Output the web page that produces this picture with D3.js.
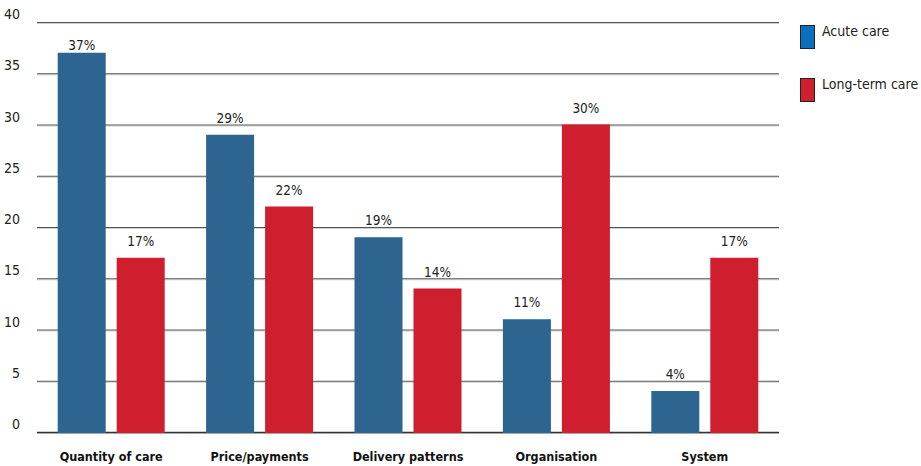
<!DOCTYPE html>
<html><head><meta charset="utf-8">
<script src="https://cdn.jsdelivr.net/npm/d3@7"></script>
<style>body{margin:0;background:#fff}svg{display:block}</style>
</head><body>
<svg id="c" width="921" height="466"></svg>
<script>
const categories = ["Quantity of care","Price/payments","Delivery patterns","Organisation","System"];
const seriesNames = ["Acute care","Long-term care"];
const acute = [37,29,19,11,4];
const longTerm = [17,22,14,30,17];
const yTicks = [0,5,10,15,20,25,30,35,40];
const barColors = ["#2d6490","#cf1f2e"];
const legendColors = ["#0a6fbf","#d0202f"];

const svg = d3.select("#c");
const font = "'Liberation Sans Narrow','DejaVu Sans Condensed',Arial,sans-serif";
const x0 = d3.scaleBand().domain(categories).range([37,779]).paddingInner(0.279).paddingOuter(0.1395);
const x1 = d3.scaleBand().domain(seriesNames).range([0,x0.bandwidth()]).paddingInner(0.1864);
const y = d3.scaleLinear().domain([0,40]).range([432,22]);

// grid
const g = svg.append("g");
yTicks.forEach(t=>{
  g.append("line").attr("x1",37).attr("x2",779).attr("y1",y(t)+1.5).attr("y2",y(t)+1.5)
   .attr("stroke","#d0d0d0").attr("stroke-width",1);
  g.append("line").attr("x1",37).attr("x2",779).attr("y1",y(t)+0.5).attr("y2",y(t)+0.5)
   .attr("stroke",t===0?"#333":"#555").attr("stroke-width",t===0?1.5:1);
});
const yAxis = svg.append("g").attr("transform","translate(20,0)")
  .call(d3.axisLeft(y).tickValues(yTicks).tickSize(0).tickPadding(0));
yAxis.select(".domain").remove();
yAxis.selectAll("text").attr("font-family",font).attr("font-size",14).attr("fill","#222").attr("dy","-0.25em");

const data = categories.map((c,i)=>({cat:c, vals:[acute[i],longTerm[i]]}));
const grp = svg.append("g").selectAll("g").data(data).join("g")
  .attr("transform",d=>`translate(${x0(d.cat)},0)`);
grp.selectAll("rect").data(d=>d.vals.map((v,j)=>({s:seriesNames[j],v,j}))).join("rect")
  .attr("x",d=>x1(d.s)).attr("width",x1.bandwidth())
  .attr("y",d=>y(d.v)).attr("height",d=>y(0)-y(d.v)+1)
  .attr("fill",d=>barColors[d.j]);
grp.selectAll("text").data(d=>d.vals.map((v,j)=>({s:seriesNames[j],v,j}))).join("text")
  .attr("x",d=>x1(d.s)+x1.bandwidth()/2).attr("y",d=>Math.max(y(d.v)-12, 50))
  .attr("text-anchor","middle").attr("font-family",font).attr("font-size",13.5).attr("fill","#222")
  .text(d=>d.v+"%");

// x labels
svg.append("g").selectAll("text").data(categories).join("text")
  .attr("x",d=>x0(d)+x0.bandwidth()/2).attr("y",461)
  .attr("text-anchor","middle").attr("font-family",font).attr("font-weight","bold")
  .attr("font-size",12.5).attr("fill","#111").text(d=>d);

// legend
const lg = svg.append("g").selectAll("g").data(seriesNames).join("g")
  .attr("transform",(d,i)=>`translate(800,${25+i*53})`);
lg.append("rect").attr("x",0.5).attr("y",0.5).attr("width",14).attr("height",23)
  .attr("fill",(d,i)=>legendColors[i]).attr("stroke","#222").attr("stroke-width",1);
lg.append("text").attr("x",22).attr("y",11).attr("font-family",font).attr("font-size",14)
  .attr("fill","#222").text(d=>d);
</script>
</body></html>
